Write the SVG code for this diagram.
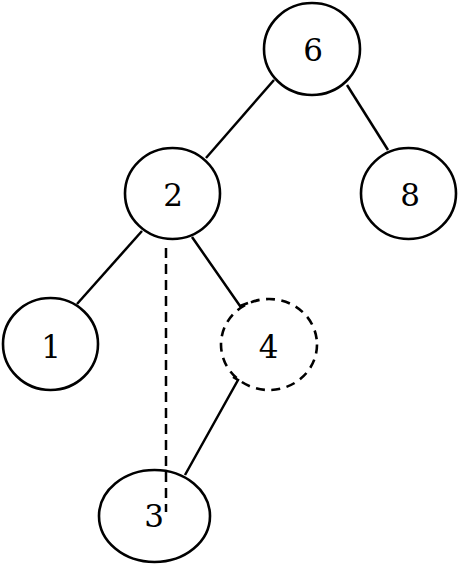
<svg xmlns="http://www.w3.org/2000/svg" width="460" height="565" viewBox="0 0 460 565">
<style>
.node{fill:#fff;stroke:#000;stroke-width:2.6}
.open{fill:none}
.dashed{stroke-dasharray:9 6.5}
.lbl{font-family:"DejaVu Serif","Liberation Serif",serif;font-size:31px;text-anchor:middle;fill:#000}
.edge{fill:none;stroke:#000;stroke-width:2.5}
.dash{stroke-dasharray:10 6}
</style>
<rect width="460" height="565" fill="#fff"/>
<g id="connectors">
<line class="edge" x1="274" y1="80" x2="206" y2="158"/>
<line class="edge" x1="347" y1="85" x2="388" y2="150"/>
<line class="edge" x1="142" y1="231" x2="77" y2="304"/>
<polyline class="edge" points="192,237 240,306 248,303"/>
<polyline class="edge" points="233,377 238,380 185,475"/>
<line class="edge dash" x1="166" y1="248" x2="166" y2="512"/>
</g>
<g id="node6"><ellipse class="node" cx="312" cy="49" rx="48" ry="46"/><text class="lbl" x="313" y="61">6</text></g>
<g id="node2"><ellipse class="node" cx="172.5" cy="193.5" rx="47.5" ry="45.5"/><text class="lbl" x="173" y="206">2</text></g>
<g id="node8"><ellipse class="node" cx="408.5" cy="193.5" rx="47.5" ry="45.5"/><text class="lbl" x="410" y="206">8</text></g>
<g id="node1"><ellipse class="node" cx="50.5" cy="344" rx="47.5" ry="46"/><text class="lbl" x="51" y="358">1</text></g>
<g id="node4"><ellipse class="node open dashed" cx="269" cy="344.5" rx="48" ry="45.5"/><text class="lbl" x="268.5" y="358">4</text></g>
<g id="node3"><ellipse class="node open" cx="154.5" cy="516" rx="55.5" ry="46"/><text class="lbl" x="154" y="527">3</text></g>
</svg>
